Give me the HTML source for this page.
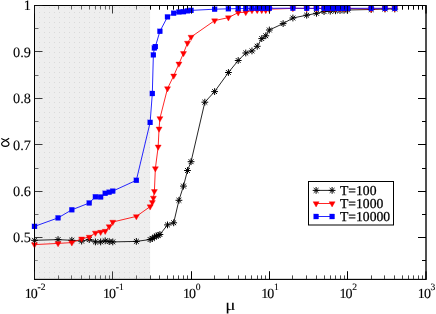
<!DOCTYPE html>
<html><head><meta charset="utf-8"><title>chart</title>
<style>
html,body{margin:0;padding:0;background:#fff;}
body{width:436px;height:314px;overflow:hidden;}
svg{display:block;will-change:transform;}
text{font-family:"Liberation Serif",serif;fill:#000;text-rendering:geometricPrecision;}
</style></head><body>
<svg width="436" height="314" viewBox="0 0 436 314">
<defs><pattern id="dots" x="4" y="2" width="5" height="5" patternUnits="userSpaceOnUse"><rect x="0" y="0" width="1" height="1" fill="#dadada"/></pattern></defs>
<rect x="0" y="0" width="436" height="314" fill="#fff"/>
<rect x="34" y="5" width="116.13" height="274.40" fill="#eeeeee"/>
<rect x="34" y="5" width="116.13" height="274.40" fill="url(#dots)"/>
<rect x="34.50" y="5.50" width="391.50" height="273.90" fill="none" stroke="#000" stroke-width="1"/>
<path d="M34.50 260.50h3.3" stroke="#8c8c8c" stroke-width="1" fill="none"/>
<path d="M150.50 5.50v4M159.50 5.50v4M167.50 5.50v4M173.50 5.50v4M178.50 5.50v4M183.50 5.50v4M187.50 5.50v4M191.50 5.50v8M191.50 279.40v-8M214.50 5.50v4M228.50 5.50v4M238.50 5.50v4M245.50 5.50v4M251.50 5.50v4M257.50 5.50v4M261.50 5.50v4M265.50 5.50v4M269.50 5.50v8M269.50 279.40v-8M292.50 5.50v4M306.50 5.50v4M316.50 5.50v4M324.50 5.50v4M330.50 5.50v4M335.50 5.50v4M340.50 5.50v4M344.50 5.50v4M347.50 5.50v8M347.50 279.40v-8M371.50 5.50v4M384.50 5.50v4M394.50 5.50v4M402.50 5.50v4M408.50 5.50v4M413.50 5.50v4M418.50 5.50v4M422.50 5.50v4M426.00 5.50v8M426.00 279.40v-8M426.00 5.50h-8M426.00 28.50h-4M426.00 51.50h-8M426.00 75.50h-4M426.00 98.50h-8M426.00 121.50h-4M426.00 144.50h-8M426.00 168.50h-4M426.00 191.50h-8M426.00 214.50h-4M426.00 237.50h-8M426.00 260.50h-4" stroke="#000" stroke-width="1" fill="none"/>
<path d="M34.50 5.50v8M34.50 279.40v-8M112.50 5.50v8M112.50 279.40v-8M34.50 5.50h8M34.50 51.50h8M34.50 98.50h8M34.50 144.50h8M34.50 191.50h8M34.50 237.50h8" stroke="#3c3c3c" stroke-width="1" fill="none"/>
<path d="M150.50 279.40v-4M159.50 279.40v-4M167.50 279.40v-4M173.50 279.40v-4M178.50 279.40v-4M183.50 279.40v-4M187.50 279.40v-4M214.50 279.40v-4M228.50 279.40v-4M238.50 279.40v-4M245.50 279.40v-4M251.50 279.40v-4M257.50 279.40v-4M261.50 279.40v-4M265.50 279.40v-4M292.50 279.40v-4M306.50 279.40v-4M316.50 279.40v-4M324.50 279.40v-4M330.50 279.40v-4M335.50 279.40v-4M340.50 279.40v-4M344.50 279.40v-4M371.50 279.40v-4M384.50 279.40v-4M394.50 279.40v-4M402.50 279.40v-4M408.50 279.40v-4M413.50 279.40v-4M418.50 279.40v-4M422.50 279.40v-4" stroke="#484848" stroke-width="1" fill="none"/>
<path d="M58.50 5.50v4M58.50 279.40v-4M71.50 5.50v4M71.50 279.40v-4M81.50 5.50v4M81.50 279.40v-4M89.50 5.50v4M89.50 279.40v-4M95.50 5.50v4M95.50 279.40v-4M100.50 5.50v4M100.50 279.40v-4M105.50 5.50v4M105.50 279.40v-4M109.50 5.50v4M109.50 279.40v-4M136.50 5.50v4M136.50 279.40v-4M34.50 28.50h4M34.50 75.50h4M34.50 121.50h4M34.50 168.50h4M34.50 214.50h4" stroke="#686868" stroke-width="1" fill="none"/>
<polyline fill="none" stroke="#000" stroke-width="0.85" points="34.50,240.30 58.06,239.60 71.85,240.30 81.63,241.10 89.22,239.60 95.41,241.90 100.65,241.90 105.19,240.80 109.20,241.60 112.78,241.90 136.34,241.40 150.13,239.50 152.32,238.50 154.38,237.00 156.33,236.00 158.17,235.30 159.91,234.50 167.50,224.90 173.69,222.80 178.93,200.30 183.47,186.10 187.48,170.50 191.06,161.70 204.84,102.20 214.62,91.60 228.41,72.50 238.19,60.50 245.78,53.00 251.97,50.90 257.21,46.30 261.75,38.60 265.76,35.80 269.34,30.00 283.12,23.60 292.90,18.00 306.69,15.20 316.47,13.30 324.06,11.60 330.25,11.20 335.49,10.80 340.03,10.50 344.04,10.30 347.62,10.00 371.18,9.50 384.97,9.00 394.75,9.00"/>
<path d="M31.10 240.30H37.90M34.50 236.90V243.70M32.10 237.90L36.90 242.70M32.10 242.70L36.90 237.90" stroke="#000" stroke-width="1" fill="none"/>
<path d="M54.66 239.60H61.46M58.06 236.20V243.00M55.66 237.20L60.47 242.00M55.66 242.00L60.47 237.20" stroke="#000" stroke-width="1" fill="none"/>
<path d="M68.45 240.30H75.25M71.85 236.90V243.70M69.44 237.90L74.25 242.70M69.44 242.70L74.25 237.90" stroke="#000" stroke-width="1" fill="none"/>
<path d="M78.23 241.10H85.03M81.63 237.70V244.50M79.23 238.70L84.03 243.50M79.23 243.50L84.03 238.70" stroke="#000" stroke-width="1" fill="none"/>
<path d="M85.82 239.60H92.62M89.22 236.20V243.00M86.81 237.20L91.62 242.00M86.81 242.00L91.62 237.20" stroke="#000" stroke-width="1" fill="none"/>
<path d="M92.01 241.90H98.81M95.41 238.50V245.30M93.01 239.50L97.82 244.30M93.01 244.30L97.82 239.50" stroke="#000" stroke-width="1" fill="none"/>
<path d="M97.25 241.90H104.05M100.65 238.50V245.30M98.25 239.50L103.06 244.30M98.25 244.30L103.06 239.50" stroke="#000" stroke-width="1" fill="none"/>
<path d="M101.79 240.80H108.59M105.19 237.40V244.20M102.79 238.40L107.60 243.20M102.79 243.20L107.60 238.40" stroke="#000" stroke-width="1" fill="none"/>
<path d="M105.80 241.60H112.60M109.20 238.20V245.00M106.79 239.20L111.60 244.00M106.79 244.00L111.60 239.20" stroke="#000" stroke-width="1" fill="none"/>
<path d="M109.38 241.90H116.18M112.78 238.50V245.30M110.38 239.50L115.18 244.30M110.38 244.30L115.18 239.50" stroke="#000" stroke-width="1" fill="none"/>
<path d="M132.94 241.40H139.74M136.34 238.00V244.80M133.94 239.00L138.75 243.80M133.94 243.80L138.75 239.00" stroke="#000" stroke-width="1" fill="none"/>
<path d="M146.73 239.50H153.53M150.13 236.10V242.90M147.72 237.10L152.53 241.90M147.72 241.90L152.53 237.10" stroke="#000" stroke-width="1" fill="none"/>
<path d="M148.92 238.50H155.72M152.32 235.10V241.90M149.92 236.10L154.73 240.90M149.92 240.90L154.73 236.10" stroke="#000" stroke-width="1" fill="none"/>
<path d="M150.98 237.00H157.78M154.38 233.60V240.40M151.98 234.60L156.79 239.40M151.98 239.40L156.79 234.60" stroke="#000" stroke-width="1" fill="none"/>
<path d="M152.93 236.00H159.73M156.33 232.60V239.40M153.92 233.60L158.73 238.40M153.92 238.40L158.73 233.60" stroke="#000" stroke-width="1" fill="none"/>
<path d="M154.77 235.30H161.57M158.17 231.90V238.70M155.76 232.90L160.57 237.70M155.76 237.70L160.57 232.90" stroke="#000" stroke-width="1" fill="none"/>
<path d="M156.51 234.50H163.31M159.91 231.10V237.90M157.51 232.10L162.31 236.90M157.51 236.90L162.31 232.10" stroke="#000" stroke-width="1" fill="none"/>
<path d="M164.10 224.90H170.90M167.50 221.50V228.30M165.09 222.50L169.90 227.30M165.09 227.30L169.90 222.50" stroke="#000" stroke-width="1" fill="none"/>
<path d="M170.29 222.80H177.09M173.69 219.40V226.20M171.29 220.40L176.10 225.20M171.29 225.20L176.10 220.40" stroke="#000" stroke-width="1" fill="none"/>
<path d="M175.53 200.30H182.33M178.93 196.90V203.70M176.53 197.90L181.34 202.70M176.53 202.70L181.34 197.90" stroke="#000" stroke-width="1" fill="none"/>
<path d="M180.07 186.10H186.87M183.47 182.70V189.50M181.07 183.70L185.88 188.50M181.07 188.50L185.88 183.70" stroke="#000" stroke-width="1" fill="none"/>
<path d="M184.08 170.50H190.88M187.48 167.10V173.90M185.07 168.10L189.88 172.90M185.07 172.90L189.88 168.10" stroke="#000" stroke-width="1" fill="none"/>
<path d="M187.66 161.70H194.46M191.06 158.30V165.10M188.66 159.30L193.46 164.10M188.66 164.10L193.46 159.30" stroke="#000" stroke-width="1" fill="none"/>
<path d="M201.44 102.20H208.24M204.84 98.80V105.60M202.44 99.80L207.25 104.60M202.44 104.60L207.25 99.80" stroke="#000" stroke-width="1" fill="none"/>
<path d="M211.22 91.60H218.02M214.62 88.20V95.00M212.22 89.20L217.03 94.00M212.22 94.00L217.03 89.20" stroke="#000" stroke-width="1" fill="none"/>
<path d="M225.01 72.50H231.81M228.41 69.10V75.90M226.00 70.10L230.81 74.90M226.00 74.90L230.81 70.10" stroke="#000" stroke-width="1" fill="none"/>
<path d="M234.79 60.50H241.59M238.19 57.10V63.90M235.79 58.10L240.59 62.90M235.79 62.90L240.59 58.10" stroke="#000" stroke-width="1" fill="none"/>
<path d="M242.38 53.00H249.18M245.78 49.60V56.40M243.37 50.60L248.18 55.40M243.37 55.40L248.18 50.60" stroke="#000" stroke-width="1" fill="none"/>
<path d="M248.57 50.90H255.37M251.97 47.50V54.30M249.57 48.50L254.38 53.30M249.57 53.30L254.38 48.50" stroke="#000" stroke-width="1" fill="none"/>
<path d="M253.81 46.30H260.61M257.21 42.90V49.70M254.81 43.90L259.62 48.70M254.81 48.70L259.62 43.90" stroke="#000" stroke-width="1" fill="none"/>
<path d="M258.35 38.60H265.15M261.75 35.20V42.00M259.35 36.20L264.16 41.00M259.35 41.00L264.16 36.20" stroke="#000" stroke-width="1" fill="none"/>
<path d="M262.36 35.80H269.16M265.76 32.40V39.20M263.35 33.40L268.16 38.20M263.35 38.20L268.16 33.40" stroke="#000" stroke-width="1" fill="none"/>
<path d="M265.94 30.00H272.74M269.34 26.60V33.40M266.94 27.60L271.74 32.40M266.94 32.40L271.74 27.60" stroke="#000" stroke-width="1" fill="none"/>
<path d="M279.72 23.60H286.52M283.12 20.20V27.00M280.72 21.20L285.53 26.00M280.72 26.00L285.53 21.20" stroke="#000" stroke-width="1" fill="none"/>
<path d="M289.50 18.00H296.30M292.90 14.60V21.40M290.50 15.60L295.31 20.40M290.50 20.40L295.31 15.60" stroke="#000" stroke-width="1" fill="none"/>
<path d="M303.29 15.20H310.09M306.69 11.80V18.60M304.28 12.80L309.09 17.60M304.28 17.60L309.09 12.80" stroke="#000" stroke-width="1" fill="none"/>
<path d="M313.07 13.30H319.87M316.47 9.90V16.70M314.07 10.90L318.87 15.70M314.07 15.70L318.87 10.90" stroke="#000" stroke-width="1" fill="none"/>
<path d="M320.66 11.60H327.46M324.06 8.20V15.00M321.65 9.20L326.46 14.00M321.65 14.00L326.46 9.20" stroke="#000" stroke-width="1" fill="none"/>
<path d="M326.85 11.20H333.65M330.25 7.80V14.60M327.85 8.80L332.66 13.60M327.85 13.60L332.66 8.80" stroke="#000" stroke-width="1" fill="none"/>
<path d="M332.09 10.80H338.89M335.49 7.40V14.20M333.09 8.40L337.90 13.20M333.09 13.20L337.90 8.40" stroke="#000" stroke-width="1" fill="none"/>
<path d="M336.63 10.50H343.43M340.03 7.10V13.90M337.63 8.10L342.44 12.90M337.63 12.90L342.44 8.10" stroke="#000" stroke-width="1" fill="none"/>
<path d="M340.64 10.30H347.44M344.04 6.90V13.70M341.63 7.90L346.44 12.70M341.63 12.70L346.44 7.90" stroke="#000" stroke-width="1" fill="none"/>
<path d="M344.22 10.00H351.02M347.62 6.60V13.40M345.22 7.60L350.02 12.40M345.22 12.40L350.02 7.60" stroke="#000" stroke-width="1" fill="none"/>
<path d="M367.78 9.50H374.58M371.18 6.10V12.90M368.78 7.10L373.59 11.90M368.78 11.90L373.59 7.10" stroke="#000" stroke-width="1" fill="none"/>
<path d="M381.57 9.00H388.37M384.97 5.60V12.40M382.56 6.60L387.37 11.40M382.56 11.40L387.37 6.60" stroke="#000" stroke-width="1" fill="none"/>
<path d="M391.35 9.00H398.15M394.75 5.60V12.40M392.35 6.60L397.15 11.40M392.35 11.40L397.15 6.60" stroke="#000" stroke-width="1" fill="none"/>
<polyline fill="none" stroke="#f00" stroke-width="0.85" points="34.50,244.60 58.06,243.40 71.85,242.60 81.63,238.80 89.22,237.00 95.41,232.90 100.65,232.10 105.19,231.10 109.20,226.50 112.78,222.00 136.34,216.40 150.13,206.60 152.32,202.30 153.37,197.90 154.38,191.30 155.37,168.50 158.17,146.80 159.05,128.80 159.91,118.40 167.50,88.50 173.69,75.80 178.93,63.80 183.47,53.30 187.48,43.00 191.06,37.00 214.62,20.60 228.41,17.60 238.19,12.60 245.78,12.30 251.97,10.40 257.21,10.20 261.75,10.20 265.76,10.20 269.34,9.20 292.90,8.40 306.69,8.50 316.47,8.50 324.06,8.50 330.25,8.50 335.49,8.50 340.03,8.50 344.04,8.50 347.62,8.50 371.18,9.00 384.97,8.50 394.75,8.50"/>
<path d="M34.50 248.06L31.50 242.87L37.50 242.87Z" fill="#f00" stroke="#f00" stroke-width="0.4"/>
<path d="M58.06 246.86L55.06 241.67L61.06 241.67Z" fill="#f00" stroke="#f00" stroke-width="0.4"/>
<path d="M71.85 246.06L68.85 240.87L74.85 240.87Z" fill="#f00" stroke="#f00" stroke-width="0.4"/>
<path d="M81.63 242.26L78.63 237.07L84.63 237.07Z" fill="#f00" stroke="#f00" stroke-width="0.4"/>
<path d="M89.22 240.46L86.22 235.27L92.22 235.27Z" fill="#f00" stroke="#f00" stroke-width="0.4"/>
<path d="M95.41 236.36L92.41 231.17L98.41 231.17Z" fill="#f00" stroke="#f00" stroke-width="0.4"/>
<path d="M100.65 235.56L97.65 230.37L103.65 230.37Z" fill="#f00" stroke="#f00" stroke-width="0.4"/>
<path d="M105.19 234.56L102.19 229.37L108.19 229.37Z" fill="#f00" stroke="#f00" stroke-width="0.4"/>
<path d="M109.20 229.96L106.20 224.77L112.20 224.77Z" fill="#f00" stroke="#f00" stroke-width="0.4"/>
<path d="M112.78 225.46L109.78 220.27L115.78 220.27Z" fill="#f00" stroke="#f00" stroke-width="0.4"/>
<path d="M136.34 219.86L133.34 214.67L139.34 214.67Z" fill="#f00" stroke="#f00" stroke-width="0.4"/>
<path d="M150.13 210.06L147.13 204.87L153.13 204.87Z" fill="#f00" stroke="#f00" stroke-width="0.4"/>
<path d="M152.32 205.76L149.32 200.57L155.32 200.57Z" fill="#f00" stroke="#f00" stroke-width="0.4"/>
<path d="M153.37 201.36L150.37 196.17L156.37 196.17Z" fill="#f00" stroke="#f00" stroke-width="0.4"/>
<path d="M154.38 194.76L151.38 189.57L157.38 189.57Z" fill="#f00" stroke="#f00" stroke-width="0.4"/>
<path d="M155.37 171.96L152.37 166.77L158.37 166.77Z" fill="#f00" stroke="#f00" stroke-width="0.4"/>
<path d="M158.17 150.26L155.17 145.07L161.17 145.07Z" fill="#f00" stroke="#f00" stroke-width="0.4"/>
<path d="M159.05 132.26L156.05 127.07L162.05 127.07Z" fill="#f00" stroke="#f00" stroke-width="0.4"/>
<path d="M159.91 121.86L156.91 116.67L162.91 116.67Z" fill="#f00" stroke="#f00" stroke-width="0.4"/>
<path d="M167.50 91.96L164.50 86.77L170.50 86.77Z" fill="#f00" stroke="#f00" stroke-width="0.4"/>
<path d="M173.69 79.26L170.69 74.07L176.69 74.07Z" fill="#f00" stroke="#f00" stroke-width="0.4"/>
<path d="M178.93 67.26L175.93 62.07L181.93 62.07Z" fill="#f00" stroke="#f00" stroke-width="0.4"/>
<path d="M183.47 56.76L180.47 51.57L186.47 51.57Z" fill="#f00" stroke="#f00" stroke-width="0.4"/>
<path d="M187.48 46.46L184.48 41.27L190.48 41.27Z" fill="#f00" stroke="#f00" stroke-width="0.4"/>
<path d="M191.06 40.46L188.06 35.27L194.06 35.27Z" fill="#f00" stroke="#f00" stroke-width="0.4"/>
<path d="M214.62 24.06L211.62 18.87L217.62 18.87Z" fill="#f00" stroke="#f00" stroke-width="0.4"/>
<path d="M228.41 21.06L225.41 15.87L231.41 15.87Z" fill="#f00" stroke="#f00" stroke-width="0.4"/>
<path d="M238.19 16.06L235.19 10.87L241.19 10.87Z" fill="#f00" stroke="#f00" stroke-width="0.4"/>
<path d="M245.78 15.76L242.78 10.57L248.78 10.57Z" fill="#f00" stroke="#f00" stroke-width="0.4"/>
<path d="M251.97 13.86L248.97 8.67L254.97 8.67Z" fill="#f00" stroke="#f00" stroke-width="0.4"/>
<path d="M257.21 13.66L254.21 8.47L260.21 8.47Z" fill="#f00" stroke="#f00" stroke-width="0.4"/>
<path d="M261.75 13.66L258.75 8.47L264.75 8.47Z" fill="#f00" stroke="#f00" stroke-width="0.4"/>
<path d="M265.76 13.66L262.76 8.47L268.76 8.47Z" fill="#f00" stroke="#f00" stroke-width="0.4"/>
<path d="M269.34 12.66L266.34 7.47L272.34 7.47Z" fill="#f00" stroke="#f00" stroke-width="0.4"/>
<path d="M292.90 11.86L289.90 6.67L295.90 6.67Z" fill="#f00" stroke="#f00" stroke-width="0.4"/>
<path d="M306.69 11.96L303.69 6.77L309.69 6.77Z" fill="#f00" stroke="#f00" stroke-width="0.4"/>
<path d="M316.47 11.96L313.47 6.77L319.47 6.77Z" fill="#f00" stroke="#f00" stroke-width="0.4"/>
<path d="M324.06 11.96L321.06 6.77L327.06 6.77Z" fill="#f00" stroke="#f00" stroke-width="0.4"/>
<path d="M330.25 11.96L327.25 6.77L333.25 6.77Z" fill="#f00" stroke="#f00" stroke-width="0.4"/>
<path d="M335.49 11.96L332.49 6.77L338.49 6.77Z" fill="#f00" stroke="#f00" stroke-width="0.4"/>
<path d="M340.03 11.96L337.03 6.77L343.03 6.77Z" fill="#f00" stroke="#f00" stroke-width="0.4"/>
<path d="M344.04 11.96L341.04 6.77L347.04 6.77Z" fill="#f00" stroke="#f00" stroke-width="0.4"/>
<path d="M347.62 11.96L344.62 6.77L350.62 6.77Z" fill="#f00" stroke="#f00" stroke-width="0.4"/>
<path d="M371.18 12.46L368.18 7.27L374.18 7.27Z" fill="#f00" stroke="#f00" stroke-width="0.4"/>
<path d="M384.97 11.96L381.97 6.77L387.97 6.77Z" fill="#f00" stroke="#f00" stroke-width="0.4"/>
<path d="M394.75 11.96L391.75 6.77L397.75 6.77Z" fill="#f00" stroke="#f00" stroke-width="0.4"/>
<polyline fill="none" stroke="#00f" stroke-width="0.85" points="34.50,226.40 58.06,217.90 71.85,209.80 89.22,203.00 95.41,196.80 100.65,197.00 105.19,193.30 109.20,192.20 112.78,191.10 136.34,180.30 150.13,122.40 152.32,93.50 153.37,54.90 154.38,48.00 155.37,46.60 159.91,31.30 167.50,16.90 173.69,13.20 178.93,12.00 183.47,11.70 187.48,10.90 191.06,10.40 214.62,9.20 228.41,8.80 238.19,8.60 245.78,8.50 251.97,8.30 257.21,8.30 261.75,8.30 265.76,8.30 269.34,8.30 292.90,8.20 306.69,8.30 316.47,8.30 324.06,8.30 327.30,8.30 330.25,8.30 332.97,8.30 335.49,8.30 337.84,8.30 340.03,8.30 342.09,8.30 344.04,8.30 345.88,8.30 347.62,8.30 371.18,8.30 384.97,8.30 394.75,8.30"/>
<rect x="31.95" y="223.85" width="5.10" height="5.10" fill="#00f" stroke="#00f" stroke-width="0.1"/>
<rect x="55.51" y="215.35" width="5.10" height="5.10" fill="#00f" stroke="#00f" stroke-width="0.1"/>
<rect x="69.30" y="207.25" width="5.10" height="5.10" fill="#00f" stroke="#00f" stroke-width="0.1"/>
<rect x="86.67" y="200.45" width="5.10" height="5.10" fill="#00f" stroke="#00f" stroke-width="0.1"/>
<rect x="92.86" y="194.25" width="5.10" height="5.10" fill="#00f" stroke="#00f" stroke-width="0.1"/>
<rect x="98.10" y="194.45" width="5.10" height="5.10" fill="#00f" stroke="#00f" stroke-width="0.1"/>
<rect x="102.64" y="190.75" width="5.10" height="5.10" fill="#00f" stroke="#00f" stroke-width="0.1"/>
<rect x="106.65" y="189.65" width="5.10" height="5.10" fill="#00f" stroke="#00f" stroke-width="0.1"/>
<rect x="110.23" y="188.55" width="5.10" height="5.10" fill="#00f" stroke="#00f" stroke-width="0.1"/>
<rect x="133.79" y="177.75" width="5.10" height="5.10" fill="#00f" stroke="#00f" stroke-width="0.1"/>
<rect x="147.58" y="119.85" width="5.10" height="5.10" fill="#00f" stroke="#00f" stroke-width="0.1"/>
<rect x="149.77" y="90.95" width="5.10" height="5.10" fill="#00f" stroke="#00f" stroke-width="0.1"/>
<rect x="150.82" y="52.35" width="5.10" height="5.10" fill="#00f" stroke="#00f" stroke-width="0.1"/>
<rect x="151.83" y="45.45" width="5.10" height="5.10" fill="#00f" stroke="#00f" stroke-width="0.1"/>
<rect x="152.82" y="44.05" width="5.10" height="5.10" fill="#00f" stroke="#00f" stroke-width="0.1"/>
<rect x="157.36" y="28.75" width="5.10" height="5.10" fill="#00f" stroke="#00f" stroke-width="0.1"/>
<rect x="164.95" y="14.35" width="5.10" height="5.10" fill="#00f" stroke="#00f" stroke-width="0.1"/>
<rect x="171.14" y="10.65" width="5.10" height="5.10" fill="#00f" stroke="#00f" stroke-width="0.1"/>
<rect x="176.38" y="9.45" width="5.10" height="5.10" fill="#00f" stroke="#00f" stroke-width="0.1"/>
<rect x="180.92" y="9.15" width="5.10" height="5.10" fill="#00f" stroke="#00f" stroke-width="0.1"/>
<rect x="184.93" y="8.35" width="5.10" height="5.10" fill="#00f" stroke="#00f" stroke-width="0.1"/>
<rect x="188.51" y="7.85" width="5.10" height="5.10" fill="#00f" stroke="#00f" stroke-width="0.1"/>
<rect x="212.07" y="6.65" width="5.10" height="5.10" fill="#00f" stroke="#00f" stroke-width="0.1"/>
<rect x="225.86" y="6.25" width="5.10" height="5.10" fill="#00f" stroke="#00f" stroke-width="0.1"/>
<rect x="235.64" y="6.05" width="5.10" height="5.10" fill="#00f" stroke="#00f" stroke-width="0.1"/>
<rect x="243.23" y="5.95" width="5.10" height="5.10" fill="#00f" stroke="#00f" stroke-width="0.1"/>
<rect x="249.42" y="5.75" width="5.10" height="5.10" fill="#00f" stroke="#00f" stroke-width="0.1"/>
<rect x="254.66" y="5.75" width="5.10" height="5.10" fill="#00f" stroke="#00f" stroke-width="0.1"/>
<rect x="259.20" y="5.75" width="5.10" height="5.10" fill="#00f" stroke="#00f" stroke-width="0.1"/>
<rect x="263.21" y="5.75" width="5.10" height="5.10" fill="#00f" stroke="#00f" stroke-width="0.1"/>
<rect x="266.79" y="5.75" width="5.10" height="5.10" fill="#00f" stroke="#00f" stroke-width="0.1"/>
<rect x="290.35" y="5.65" width="5.10" height="5.10" fill="#00f" stroke="#00f" stroke-width="0.1"/>
<rect x="304.14" y="5.75" width="5.10" height="5.10" fill="#00f" stroke="#00f" stroke-width="0.1"/>
<rect x="313.92" y="5.75" width="5.10" height="5.10" fill="#00f" stroke="#00f" stroke-width="0.1"/>
<rect x="321.51" y="5.75" width="5.10" height="5.10" fill="#00f" stroke="#00f" stroke-width="0.1"/>
<rect x="324.75" y="5.75" width="5.10" height="5.10" fill="#00f" stroke="#00f" stroke-width="0.1"/>
<rect x="327.70" y="5.75" width="5.10" height="5.10" fill="#00f" stroke="#00f" stroke-width="0.1"/>
<rect x="330.42" y="5.75" width="5.10" height="5.10" fill="#00f" stroke="#00f" stroke-width="0.1"/>
<rect x="332.94" y="5.75" width="5.10" height="5.10" fill="#00f" stroke="#00f" stroke-width="0.1"/>
<rect x="335.29" y="5.75" width="5.10" height="5.10" fill="#00f" stroke="#00f" stroke-width="0.1"/>
<rect x="337.48" y="5.75" width="5.10" height="5.10" fill="#00f" stroke="#00f" stroke-width="0.1"/>
<rect x="339.54" y="5.75" width="5.10" height="5.10" fill="#00f" stroke="#00f" stroke-width="0.1"/>
<rect x="341.49" y="5.75" width="5.10" height="5.10" fill="#00f" stroke="#00f" stroke-width="0.1"/>
<rect x="343.33" y="5.75" width="5.10" height="5.10" fill="#00f" stroke="#00f" stroke-width="0.1"/>
<rect x="345.07" y="5.75" width="5.10" height="5.10" fill="#00f" stroke="#00f" stroke-width="0.1"/>
<rect x="368.63" y="5.75" width="5.10" height="5.10" fill="#00f" stroke="#00f" stroke-width="0.1"/>
<rect x="382.42" y="5.75" width="5.10" height="5.10" fill="#00f" stroke="#00f" stroke-width="0.1"/>
<rect x="392.20" y="5.75" width="5.10" height="5.10" fill="#00f" stroke="#00f" stroke-width="0.1"/>
<g opacity="0.75">
<rect x="34.50" y="5.50" width="391.50" height="273.90" fill="none" stroke="#000" stroke-width="1"/>
<path d="M150.50 5.50v4M159.50 5.50v4M167.50 5.50v4M173.50 5.50v4M178.50 5.50v4M183.50 5.50v4M187.50 5.50v4M191.50 5.50v8M191.50 279.40v-8M214.50 5.50v4M228.50 5.50v4M238.50 5.50v4M245.50 5.50v4M251.50 5.50v4M257.50 5.50v4M261.50 5.50v4M265.50 5.50v4M269.50 5.50v8M269.50 279.40v-8M292.50 5.50v4M306.50 5.50v4M316.50 5.50v4M324.50 5.50v4M330.50 5.50v4M335.50 5.50v4M340.50 5.50v4M344.50 5.50v4M347.50 5.50v8M347.50 279.40v-8M371.50 5.50v4M384.50 5.50v4M394.50 5.50v4M402.50 5.50v4M408.50 5.50v4M413.50 5.50v4M418.50 5.50v4M422.50 5.50v4M426.00 5.50v8M426.00 279.40v-8M426.00 5.50h-8M426.00 28.50h-4M426.00 51.50h-8M426.00 75.50h-4M426.00 98.50h-8M426.00 121.50h-4M426.00 144.50h-8M426.00 168.50h-4M426.00 191.50h-8M426.00 214.50h-4M426.00 237.50h-8M426.00 260.50h-4" stroke="#000" stroke-width="1" fill="none"/>
</g>
<text x="23.85" y="10.20" font-size="14.30" stroke="#000" stroke-width="0.10" >1</text>
<text x="13.12 20.27 23.85" y="56.64" font-size="14.30" stroke="#000" stroke-width="0.10" >0.9</text>
<text x="13.12 20.27 23.85" y="103.08" font-size="14.30" stroke="#000" stroke-width="0.10" >0.8</text>
<text x="13.12 20.27 23.85" y="149.52" font-size="14.30" stroke="#000" stroke-width="0.10" >0.7</text>
<text x="13.12 20.27 23.85" y="195.96" font-size="14.30" stroke="#000" stroke-width="0.10" >0.6</text>
<text x="13.12 20.27 23.85" y="242.40" font-size="14.30" stroke="#000" stroke-width="0.10" >0.5</text>
<text x="24.73" y="298.00" font-size="14.00" stroke="#000" stroke-width="0.12" >1</text>
<text x="30.83" y="298.00" font-size="14.00" stroke="#000" stroke-width="0.12" >0</text>
<text x="37.53 40.73" y="289.90" font-size="9.60" stroke="#000" stroke-width="0.12" >-2</text>
<text x="103.01" y="298.00" font-size="14.00" stroke="#000" stroke-width="0.12" >1</text>
<text x="109.11" y="298.00" font-size="14.00" stroke="#000" stroke-width="0.12" >0</text>
<text x="115.81 119.01" y="289.90" font-size="9.60" stroke="#000" stroke-width="0.12" >-1</text>
<text x="182.96" y="298.00" font-size="14.00" stroke="#000" stroke-width="0.12" >1</text>
<text x="189.06" y="298.00" font-size="14.00" stroke="#000" stroke-width="0.12" >0</text>
<text x="195.76" y="289.90" font-size="9.60" stroke="#000" stroke-width="0.12" >0</text>
<text x="261.24" y="298.00" font-size="14.00" stroke="#000" stroke-width="0.12" >1</text>
<text x="267.34" y="298.00" font-size="14.00" stroke="#000" stroke-width="0.12" >0</text>
<text x="274.04" y="289.90" font-size="9.60" stroke="#000" stroke-width="0.12" >1</text>
<text x="339.52" y="298.00" font-size="14.00" stroke="#000" stroke-width="0.12" >1</text>
<text x="345.62" y="298.00" font-size="14.00" stroke="#000" stroke-width="0.12" >0</text>
<text x="352.32" y="289.90" font-size="9.60" stroke="#000" stroke-width="0.12" >2</text>
<text x="417.80" y="298.00" font-size="14.00" stroke="#000" stroke-width="0.12" >1</text>
<text x="423.90" y="298.00" font-size="14.00" stroke="#000" stroke-width="0.12" >0</text>
<text x="430.60" y="289.90" font-size="9.60" stroke="#000" stroke-width="0.12" >3</text>
<text transform="translate(225.15,309.75) scale(1.200,1)" x="0.00" y="0" font-size="16.00" stroke="#000" stroke-width="0.05" >μ</text>
<g><title>α</title><path d="M1.3 138.6C3.5 139.6 9.0 141.2 9.0 143.8C9.0 145.4 7.4 146.35 5.4 146.35C3.2 146.35 1.6 145.4 1.6 143.8C1.6 141.2 6.5 140.6 9.1 138.3" fill="none" stroke="#000" stroke-width="1.15" stroke-linecap="butt"/></g>
<rect x="308.5" y="181.5" width="85" height="43.5" fill="#fff" stroke="#000" stroke-width="1"/>
<path d="M316.1 190.40H332.1" stroke="#000" stroke-width="0.85"/>
<path d="M312.70 190.40H319.50M316.10 187.00V193.80M313.70 188.00L318.50 192.80M313.70 192.80L318.50 188.00" stroke="#000" stroke-width="1" fill="none"/>
<path d="M328.70 190.40H335.50M332.10 187.00V193.80M329.70 188.00L334.50 192.80M329.70 192.80L334.50 188.00" stroke="#000" stroke-width="1" fill="none"/>
<text x="340.00 348.34 356.04 362.86 369.69" y="194.90" font-size="13.65" stroke="#000" stroke-width="0.25" >T=100</text>
<path d="M316.1 203.50H332.1" stroke="#f00" stroke-width="0.85"/>
<path d="M316.10 206.96L313.10 201.77L319.10 201.77Z" fill="#f00" stroke="#f00" stroke-width="0.4"/>
<path d="M332.10 206.96L329.10 201.77L335.10 201.77Z" fill="#f00" stroke="#f00" stroke-width="0.4"/>
<text x="340.00 348.34 356.04 362.86 369.69 376.51" y="207.60" font-size="13.65" stroke="#000" stroke-width="0.25" >T=1000</text>
<path d="M316.1 216.50H332.1" stroke="#00f" stroke-width="0.85"/>
<rect x="313.55" y="213.95" width="5.10" height="5.10" fill="#00f" stroke="#00f" stroke-width="0.1"/>
<rect x="329.55" y="213.95" width="5.10" height="5.10" fill="#00f" stroke="#00f" stroke-width="0.1"/>
<text x="340.00 348.34 356.04 362.86 369.69 376.51 383.34" y="220.50" font-size="13.65" stroke="#000" stroke-width="0.25" >T=10000</text>
</svg></body></html>
